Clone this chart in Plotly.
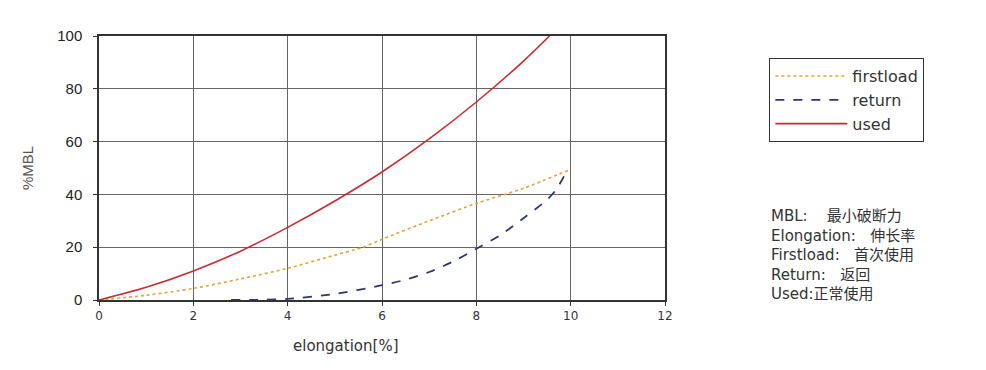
import plotly.graph_objects as go

# Data
used_x = [0, 1, 2, 3, 4, 5, 6, 7, 8, 9, 9.55]
used_y = [0, 4.8, 11, 18.5, 27.5, 37.5, 48.5, 61, 75, 90.5, 100]

first_x = [0, 1, 2, 3, 4, 5, 5.6, 6, 7, 8, 8.6, 9, 10]
first_y = [0, 1.8, 4.4, 8, 12, 17, 20, 23, 30, 36.6, 40, 42.3, 49.5]

return_x = [2.8, 3.5, 4, 5, 6, 6.5, 7, 7.5, 8, 8.5, 9, 9.5, 9.7, 9.92]
return_y = [0, 0.1, 0.4, 2.3, 5.6, 7.7, 10.6, 14.5, 19.4, 24.5, 31, 38, 42, 49]

x_ticks = [0, 2, 4, 6, 8, 10, 12]
y_ticks = [0, 20, 40, 60, 80, 100]

NB = "\u00a0"
notes = ["MBL:" + NB * 4 + "最小破断力", "Elongation:" + NB * 3 + "伸长率",
         "Firstload:" + NB * 3 + "首次使用", "Return:" + NB * 3 + "返回", "Used:正常使用"]

FONT = "Liberation Sans, Arial, sans-serif"
WIDE = "DejaVu Sans, Noto Sans CJK SC, sans-serif"
TXT = "#333333"

fig = go.Figure()
fig.add_trace(go.Scatter(x=first_x, y=first_y, mode="lines", name="firstload",
                         line=dict(color="#e9a13b", width=1.6, dash="dot", shape="spline", smoothing=0.8)))
fig.add_trace(go.Scatter(x=return_x, y=return_y, mode="lines", name="return",
                         line=dict(color="#30346f", width=1.8, dash="dash", shape="spline", smoothing=0.8)))
fig.add_trace(go.Scatter(x=used_x, y=used_y, mode="lines", name="used",
                         line=dict(color="#c92a30", width=1.6, shape="spline", smoothing=0.8)))

fig.update_layout(
    width=986, height=370,
    margin=dict(l=91, r=329, t=28, b=78),
    paper_bgcolor="white", plot_bgcolor="white",
    font=dict(family=FONT, color=TXT, size=13),
    showlegend=True,
    legend=dict(x=1.184, y=0.917, xanchor="left", yanchor="top",
                bordercolor="#333333", borderwidth=1.2, bgcolor="white",
                font=dict(size=16, color=TXT, family=WIDE), tracegroupgap=0,
                itemwidth=72),
    xaxis=dict(range=[0, 12], tickvals=x_ticks, showgrid=True,
               gridcolor="#666666", gridwidth=1, showline=True, linecolor="#333333",
               linewidth=1.5, mirror=True, zeroline=False,
               ticks="outside", ticklen=4, tickcolor="#333333",
               tickfont=dict(size=12, color=TXT, family=WIDE)),
    yaxis=dict(range=[0, 100], tickvals=y_ticks, showgrid=True,
               gridcolor="#666666", gridwidth=1, showline=True, linecolor="#333333",
               linewidth=1.5, mirror=True, zeroline=False,
               ticks="outside", ticklen=4, tickcolor="#333333", ticklabelstandoff=8,
               tickfont=dict(size=15, color="#222222", family="Liberation Sans, Arial, sans-serif"),
               title=dict(text="%MBL", font=dict(size=15, color="#555555"), standoff=20)),
)

fig.add_annotation(xref="paper", yref="paper", x=0.435, y=-0.174, xanchor="center", yanchor="middle",
                   text="elongation[%]", showarrow=False,
                   font=dict(size=15, color=TXT, family=WIDE))

fig.add_annotation(xref="paper", yref="paper", x=1.184, y=0.36, xanchor="left", yanchor="top",
                   text="<br>".join(notes), showarrow=False, align="left",
                   font=dict(size=15, color=TXT, family=WIDE))

fig.write_html("out.html")
